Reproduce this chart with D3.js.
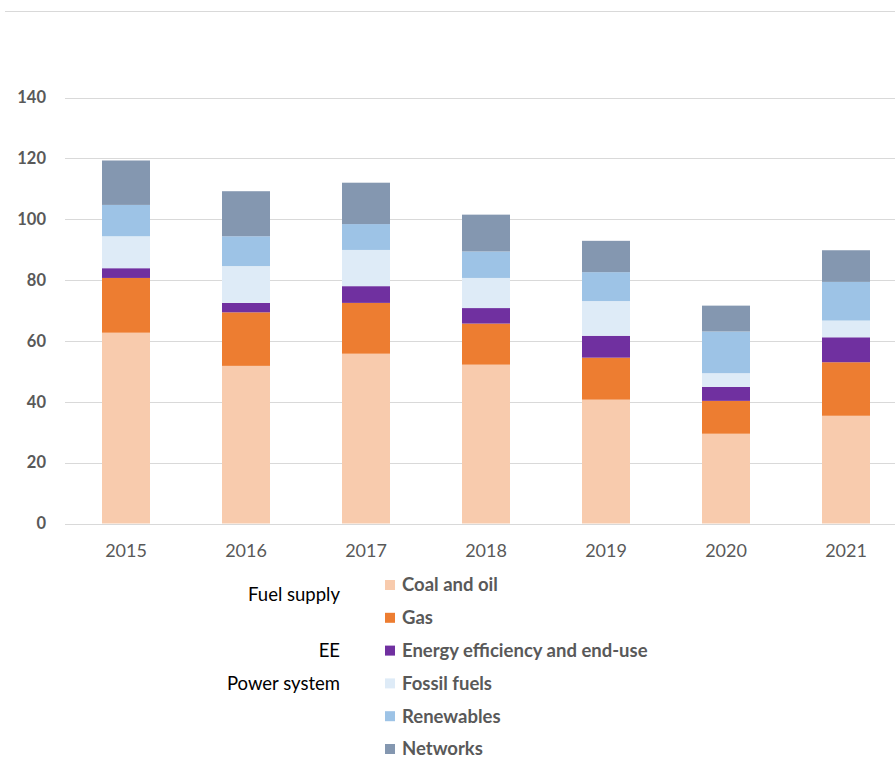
<!DOCTYPE html>
<html>
<head>
<meta charset="utf-8">
<script src="https://cdn.jsdelivr.net/npm/d3@7/dist/d3.min.js"></script>
<style>
  html, body { margin: 0; padding: 0; background: #fff; }
  svg { display: block; }
</style>
</head>
<body>
<svg id="chart" width="895" height="760"></svg>
<script>
// Investment by segment, 2015-2021
const years = ["2015", "2016", "2017", "2018", "2019", "2020", "2021"];
const coalOil    = [62.7, 51.8, 55.8, 52.2, 40.7, 29.5, 35.4];
const gas        = [18.0, 17.6, 16.7, 13.5, 13.8, 10.8, 17.6];
const efficiency = [3.2, 3.1, 5.5, 5.1, 7.2, 4.6, 8.2];
const fossil     = [10.5, 12.1, 11.9, 9.9, 11.4, 4.5, 5.5];
const renewables = [10.3, 9.8, 8.5, 8.7, 9.5, 13.7, 12.7];
const networks   = [14.6, 14.8, 13.6, 12.1, 10.3, 8.5, 10.4];
const yTicks = [0, 20, 40, 60, 80, 100, 120, 140];

const seriesNames = ["Coal and oil", "Gas", "Energy efficiency and end-use",
                     "Fossil fuels", "Renewables", "Networks"];
const seriesValues = [coalOil, gas, efficiency, fossil, renewables, networks];
const seriesColors = ["#F8CBAD", "#ED7D31", "#7030A0", "#DEEBF7", "#9DC3E6", "#8497B0"];
const groupLabels = [
  { label: "Fuel supply", row: 0, shift: 10 },
  { label: "EE", row: 2, shift: 0 },
  { label: "Power system", row: 3, shift: 0 }
];

const rows = years.map((y, i) => {
  const r = { year: y };
  seriesNames.forEach((n, k) => { r[n] = seriesValues[k][i]; });
  return r;
});

const svg = d3.select("#chart");

// thin rule across the top
svg.append("line")
  .attr("x1", 5).attr("x2", 895)
  .attr("y1", 11.5).attr("y2", 11.5)
  .attr("stroke", "#d9d9d9").attr("stroke-width", 1);

const x = d3.scaleBand().domain(years).range([66, 906]).paddingInner(0.6).paddingOuter(0.3);
const y = d3.scaleLinear().domain([0, 140]).range([523.5, 97.5]);

// horizontal gridlines
svg.append("g").selectAll("line").data(yTicks).join("line")
  .attr("x1", 65).attr("x2", 895)
  .attr("y1", d => Math.round(y(d)) + 0.5).attr("y2", d => Math.round(y(d)) + 0.5)
  .attr("stroke", "#d9d9d9").attr("stroke-width", 1.2);

// y-axis labels
const yAxis = svg.append("g").attr("transform", "translate(46,0)")
  .call(d3.axisLeft(y).tickValues(yTicks).tickSize(0).tickPadding(0));
yAxis.select(".domain").remove();
yAxis.selectAll("text")
  .attr("font-family", "Lato, 'Open Sans', sans-serif")
  .attr("font-size", 16.5).attr("font-weight", "bold").attr("fill", "#595959");

// stacked bars
const stack = d3.stack().keys(seriesNames)(rows);
svg.append("g").selectAll("g").data(stack).join("g")
  .attr("fill", (d, i) => seriesColors[i])
  .selectAll("rect").data(d => d).join("rect")
  .attr("x", d => x(d.data.year))
  .attr("width", x.bandwidth())
  .attr("y", d => y(d[1]))
  .attr("height", d => y(d[0]) - y(d[1]));

// x-axis labels
const xAxis = svg.append("g").attr("transform", "translate(0,543)")
  .call(d3.axisBottom(x).tickSize(0).tickPadding(0));
xAxis.select(".domain").remove();
xAxis.selectAll("text")
  .attr("dy", "0.75em")
  .attr("font-family", "Lato, 'Open Sans', sans-serif")
  .attr("font-size", 18).attr("fill", "#595959");

// legend
const rowY = d3.scalePoint().domain(d3.range(seriesNames.length)).range([585, 749]);
const legend = svg.append("g");
const item = legend.selectAll("g").data(seriesNames).join("g")
  .attr("transform", (d, i) => `translate(0,${rowY(i)})`);
item.append("rect")
  .attr("x", 385).attr("y", -5).attr("width", 10).attr("height", 10)
  .attr("fill", (d, i) => seriesColors[i]);
item.append("text")
  .attr("x", 402).attr("dy", "0.35em")
  .attr("font-family", "Lato, 'Open Sans', sans-serif")
  .attr("font-size", 18.5).attr("font-weight", "bold").attr("fill", "#595959")
  .text(d => d);

// segment group labels
legend.selectAll("text.group").data(groupLabels).join("text")
  .attr("class", "group")
  .attr("x", 340).attr("y", d => rowY(d.row) + d.shift)
  .attr("dy", "0.35em")
  .attr("text-anchor", "end")
  .attr("font-family", "Lato, 'Open Sans', sans-serif")
  .attr("font-size", 18.5).attr("fill", "#000")
  .text(d => d.label);
</script>
</body>
</html>
